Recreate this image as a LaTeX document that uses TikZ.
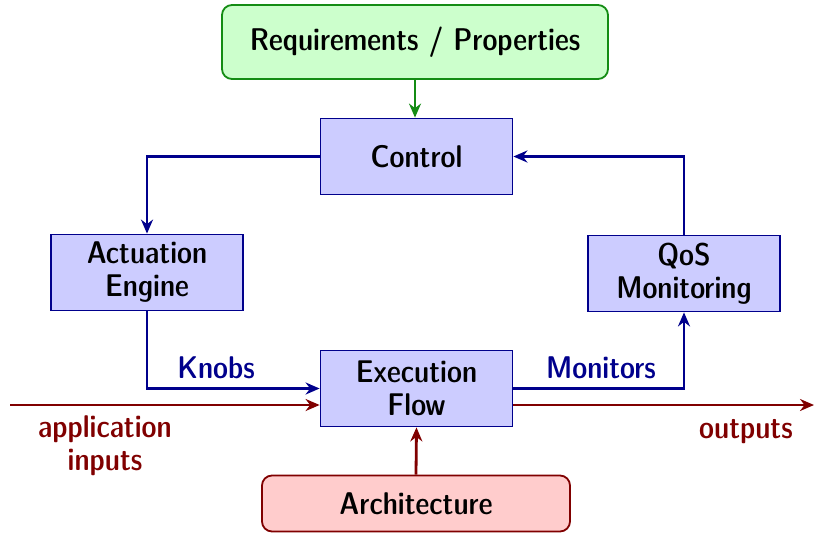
\documentclass[tikz,border=0pt]{standalone}
\usepackage{fontspec}
\newfontfamily\dcfont{lmsansdemicond10-regular.otf}
\usetikzlibrary{arrows.meta}
\definecolor{boxblue}{RGB}{204,204,255}
\definecolor{lineblue}{RGB}{0,0,140}
\definecolor{boxgreen}{RGB}{204,255,204}
\definecolor{linegreen}{RGB}{20,140,20}
\definecolor{boxred}{RGB}{255,204,204}
\definecolor{linered}{RGB}{128,0,0}
\begin{document}
\begin{tikzpicture}[x=0.5pt,y=-0.5pt,
  font=\dcfont\fontsize{15.7}{16.5}\selectfont,
  block/.style={draw=lineblue, fill=boxblue, line width=0.9pt, minimum width=96pt, minimum height=38pt, align=center, inner sep=2pt},
  reqbox/.style={draw=linegreen, fill=boxgreen, line width=0.9pt, rounded corners=5pt, minimum width=193pt, minimum height=37pt, align=center},
  archbox/.style={draw=linered, fill=boxred, line width=0.9pt, rounded corners=5pt, minimum width=154pt, minimum height=28pt, align=center},
  bluearrow/.style={draw=lineblue, line width=1.4pt, -{Stealth[length=7pt,width=6pt]}},
  redarrow/.style={draw=linered, line width=1.4pt, -{Stealth[length=7pt,width=6pt]}},
  greenarrow/.style={draw=linegreen, line width=1.4pt, -{Stealth[length=7pt,width=6pt]}},
  bluelabel/.style={text=lineblue},
  redlabel/.style={text=linered, align=center}
]
\useasboundingbox (0,0) rectangle (814,536);

% boxes
\node[reqbox] (req) at (415,42) {Requirements / Properties};
\node[block] (ctrl) at (416.5,156.5) {Control};
\node[block] (act) at (147,272.5) {Actuation\\Engine};
\node[block] (qos) at (684,273.5) {QoS\\Monitoring};
\node[block] (exec) at (416.5,388.5) {Execution\\Flow};
\node[archbox] (arch) at (416,503.5) {Architecture};

% free ends of the data path
\coordinate (inL) at (10,405);
\coordinate (outR) at (814,405);

% control loop
\draw[greenarrow] (req.south) -- (req.south |- ctrl.north);
\draw[bluearrow] (ctrl.west) -| (act.north);
\draw[bluearrow] (act.south) |- (exec.west);
\draw[bluearrow] (exec.east) -| (qos.south);
\draw[bluearrow] (qos.north) |- (ctrl.east);

% data path
\draw[redarrow] (inL) -- (inL -| exec.west);
\draw[redarrow] (exec.east |- outR) -- (outR);
\draw[redarrow] (arch.north) -- (exec.south);

% labels
\node[bluelabel] (knobs) at (216,368) {Knobs};
\node[bluelabel] (mon) at (601,368) {Monitors};
\node[redlabel] (appin) at (105,446) {application\\inputs};
\node[redlabel] (outs) at (746,432) {outputs};
\end{tikzpicture}
\end{document}
